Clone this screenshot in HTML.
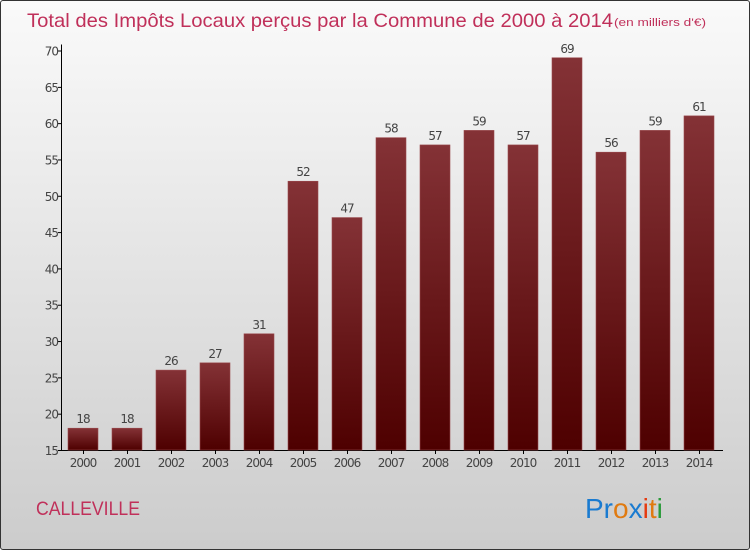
<!DOCTYPE html>
<html><head><meta charset="utf-8"><style>
body{margin:0}
#c{position:relative;width:748px;height:548px;border:1px solid #333;border-radius:3px;overflow:hidden;background:linear-gradient(#fafafa,#cccccc);font-family:"DejaVu Sans","Liberation Sans",sans-serif}
</style></head><body>
<div id="c">
<svg width="748" height="548" style="position:absolute;left:0;top:0" id="svg">
<defs><linearGradient id="bg" x1="0" y1="0" x2="0" y2="1"><stop offset="0" stop-color="#843236"/><stop offset="1" stop-color="#4e0000"/></linearGradient></defs>
<text x="26" y="26" font-size="19.5" fill="#c0305a" font-family="Liberation Sans,sans-serif" textLength="586" lengthAdjust="spacingAndGlyphs">Total des Impôts Locaux perçus par la Commune de 2000 à 2014</text>
<text x="613" y="25" font-size="11" fill="#c0305a" font-family="Liberation Sans,sans-serif" textLength="92" lengthAdjust="spacingAndGlyphs">(en milliers d'€)</text>
<text x="35" y="514" font-size="19" fill="#c0305a" font-family="Liberation Sans,sans-serif" textLength="104" lengthAdjust="spacingAndGlyphs">CALLEVILLE</text>
<text x="584" y="517" font-size="28" font-family="Liberation Sans,sans-serif"><tspan fill="#1a7bd0">Pr</tspan><tspan fill="#e07a10">o</tspan><tspan fill="#1a7bd0">x</tspan><tspan fill="#e53a10">i</tspan><tspan fill="#e07a10">t</tspan><tspan fill="#2a9a3a">i</tspan></text>
<g id="g"></g>
</svg></div>
<script>
const years=["2000","2001","2002","2003","2004","2005","2006","2007","2008","2009","2010","2011","2012","2013","2014"];
const values=[18,18,26,27,31,52,47,58,57,59,57,69,56,59,61];
const ticks=[15,20,25,30,35,40,45,50,55,60,65,70];
const NS="http://www.w3.org/2000/svg",g=document.getElementById('g');
const y=v=>449-(v-15)*(399.5/55);
const x=i=>67+i*44;
function mk(t,a,txt){const e=document.createElementNS(NS,t);for(const k in a)e.setAttribute(k,a[k]);if(txt!=null)e.textContent=txt;g.appendChild(e);return e;}
let e=mk('line',{x1:60.5,y1:y(70)-6,x2:60.5,y2:449.5,stroke:'#000'});


e=mk('line',{x1:60.5,y1:449.5,x2:722,y2:449.5,stroke:'#000'});


ticks.forEach(t=>{
 mk('line',{x1:57,y1:y(t)+.5,x2:61,y2:y(t)+.5,stroke:'#000'});
 e=mk('text',{x:57,y:y(t)+5,'font-size':12,'text-anchor':'end',fill:'#444','letter-spacing':'-1'},t);
 
 
});
values.forEach((v,i)=>{
 e=mk('rect',{x:x(i),y:y(v),width:30,height:449-y(v),fill:'url(#bg)',stroke:'#9a4a4e','stroke-width':0.6});
 
 
 e=mk('text',{x:x(i)+15,y:y(v)-5,'font-size':12,'text-anchor':'middle',fill:'#444','letter-spacing':'-1'},v);
 
 
 mk('line',{x1:x(i)+15.5,y1:449,x2:x(i)+15.5,y2:453,stroke:'#000'});
 e=mk('text',{x:x(i)+15,y:466,'font-size':12,'text-anchor':'middle',fill:'#444','letter-spacing':'-1'},years[i]);
 
 
});
</script>
</body></html>
